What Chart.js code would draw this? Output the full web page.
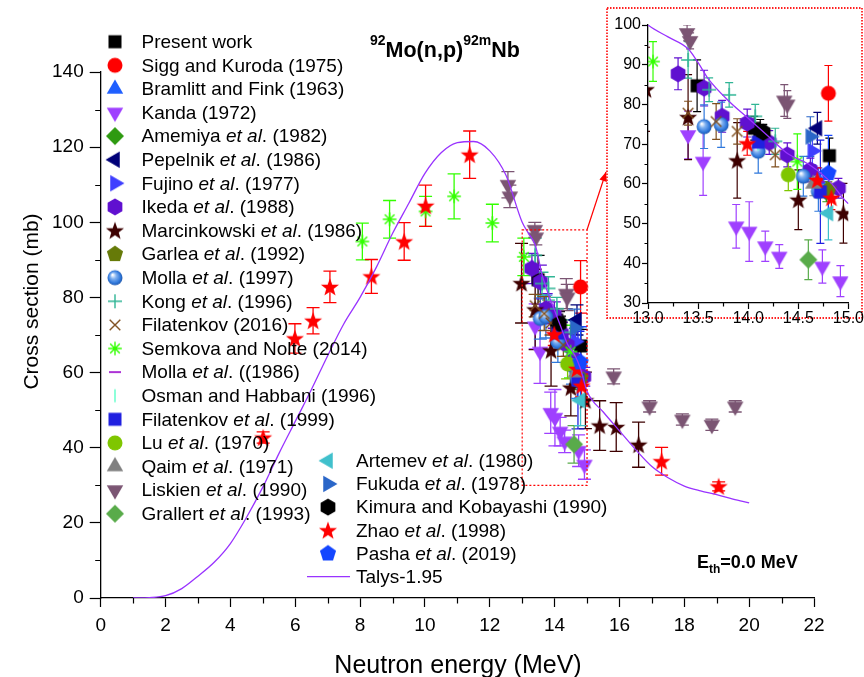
<!DOCTYPE html>
<html>
<head>
<meta charset="utf-8">
<script src="https://cdn.jsdelivr.net/npm/chart.js@4.4.1/dist/chart.umd.min.js"></script>
<style>
  html, body { margin: 0; padding: 0; background: #fff; }
  #wrap { position: relative; width: 864px; height: 677px; overflow: hidden; }
  #mainChart { position: absolute; left: 0; top: 0; }
  #insetChart { position: absolute; left: 605px; top: 5px; }
</style>
</head>
<body>
<div id="wrap">
  <canvas id="mainChart" width="864" height="677"></canvas>
  <canvas id="insetChart" width="259" height="325"></canvas>
</div>
<script>
const FONT = "'Liberation Sans', Arial, Helvetica, sans-serif";

// ---- tick labels ----
const mainXTicks = [0, 2, 4, 6, 8, 10, 12, 14, 16, 18, 20, 22];
const mainYTicks = [0, 20, 40, 60, 80, 100, 120, 140];
const insetXTicks = [13.0, 13.5, 14.0, 14.5, 15.0];
const insetYTicks = [30, 40, 50, 60, 70, 80, 90, 100];

// ---- data: energy (MeV), cross section (mb), error (mb) ----
const presentE = [13.49, 14.06, 14.12, 14.81];
const presentXS = [84.7, 74.0, 73.2, 67.1];
const presentErr = [6.5, 3, 3, 4.4];

const siggE = [14.8];
const siggXS = [82.8];
const siggErr = [7];

const bramlittE = [14.7];
const bramlittXS = [61];
const bramlittErr = [3];

const kandaE = [13.4, 13.55, 13.88, 14.01, 14.17, 14.31, 14.74, 14.92];
const kandaXS = [72.3, 65.6, 49.3, 48.0, 44.3, 41.7, 39.2, 35.5];
const kandaErr = [6, 8.5, 5.5, 7.5, 3.8, 3, 4.2, 3.9];

const amemiyaE = [14.78];
const amemiyaXS = [58];
const amemiyaErr = [2.5];

const pepelnikE = [14.69];
const pepelnikXS = [74];
const pepelnikErr = [4];

const fujinoE = [14.64];
const fujinoXS = [68.3];
const fujinoErr = [3.5];

const ikedaE = [13.3, 13.56, 13.74, 13.99, 14.21, 14.39, 14.62, 14.9];
const ikedaXS = [87.7, 84.1, 77.0, 75.3, 70.4, 67.3, 63.5, 58.9];
const ikedaErr = [4, 4.5, 4, 3.5, 3, 3, 3, 2.5];

const marcinE = [12.98, 13.4, 13.89, 14.5, 14.95, 15.39, 15.9, 16.59];
const marcinXS = [83.8, 76.8, 65.9, 56.0, 52.6, 45.9, 45.5, 40.8];
const marcinErr = [10.6, 10.7, 9.5, 7.5, 7.5, 6.6, 6.5, 6];

const garleaE = [14.8];
const garleaXS = [58.5];
const garleaErr = [2];

const molla97E = [13.56, 13.73, 14.1, 14.55, 14.7];
const molla97XS = [74.4, 74.9, 68.2, 61.9, 58.1];
const molla97Err = [5.5, 5.7, 5.5, 5, 5];

const kongE = [13.4, 13.61, 13.81, 14.07, 14.27];
const kongXS = [91.2, 83.7, 82.4, 77.0, 70.7];
const kongErr = [4.6, 3, 3.1, 3, 3.3];

const fil16E = [13.4, 13.68, 13.89, 14.27];
const fil16XS = [77.8, 75.7, 73.2, 67.3];
const fil16Err = [3, 4.5, 3.2, 3];

const semkovaE = [8.07, 8.91, 10.02, 10.9, 12.08, 13.05, 14.49];
const semkovaXS = [94.9, 100.8, 102.9, 106.9, 99.8, 90.8, 65.6];
const semkovaErr = [4.9, 5, 4, 6, 5, 5, 7];

const molla86E = [14.7];
const molla86XS = [60.5];
const molla86Err = [2];

const osmanE = [14.1];
const osmanXS = [70];
const osmanErr = [3];

const fil99E = [14.1, 14.72];
const fil99XS = [70.5, 58];
const fil99Err = [3, 13];

const luE = [14.4];
const luXS = [62.3];
const luErr = [4];

const qaimE = [14.65];
const qaimXS = [60];
const qaimErr = [3];

const liskienE = [12.56, 12.62, 13.39, 13.42, 14.36, 14.39, 15.82, 16.93, 17.94, 18.85, 19.57];
const liskienXS = [110, 106.9, 98, 96, 81, 80, 59, 51, 47.5, 46.1, 51];
const liskienErr = [3.5, 3, 2, 2, 4, 3.5, 2, 1.5, 1.5, 1.5, 1.5];

const grallertE = [14.6];
const grallertXS = [40.9];
const grallertErr = [5];

const artemevE = [14.8];
const artemevXS = [52.6];
const artemevErr = [6.7];

const fukudaE = [14.62];
const fukudaXS = [71.9];
const fukudaErr = [5];

const kimuraE = [14.15];
const kimuraXS = [73];
const kimuraErr = [2];

const zhaoE = [5.01, 5.99, 6.55, 7.07, 8.35, 9.36, 10.02, 11.38, 13.99, 14.69, 14.83, 17.3, 19.06];
const zhaoXS = [42.7, 69.1, 73.8, 82.8, 85.6, 94.9, 104.4, 118, 70.2, 61, 56.5, 36.4, 29.7];
const zhaoErr = [1.5, 3.9, 3.5, 4.2, 4.5, 5, 5.5, 6.3, 3, 3, 3, 3.7, 1.2];

const pashaE = [14.8];
const pashaXS = [62.7];
const pashaErr = [9.5];

const talysE = [1, 1.5, 2, 2.5, 3, 3.5, 4, 4.5, 5, 5.5, 6, 6.5, 7, 7.5, 8, 8.5, 9, 9.5, 10, 10.5, 11, 11.5, 12, 12.5,
  13, 13.2, 13.4, 13.5, 13.6, 13.8, 14, 14.2, 14.4, 14.6, 14.8, 15, 15.5, 16, 16.5, 17, 17.5, 18, 18.5, 19, 19.5, 20];
const talysXS = [0, 0.1, 0.6, 2.5, 5.8, 9.5, 14.5, 21.5, 29.5, 38.5, 47, 55.5, 64.5, 73, 80, 88, 97, 105, 113, 118.5, 121.2, 121.5, 119, 112.5,
  100, 97, 94, 90.5, 86.5, 81, 76.5, 72, 67.5, 65, 61, 55, 49.5, 44.5, 39.5, 35, 32, 29.8, 28.5, 27.5, 26.3, 25.3];

// zoomed window shown in the inset
const zoomE = [13, 15];
const zoomXS = [30, 98];

// ---- series, in legend order ----
const expSeries = [
  ['Present work', presentE, presentXS, presentErr],
  ['Sigg and Kuroda (1975)', siggE, siggXS, siggErr],
  ['Bramlitt and Fink (1963)', bramlittE, bramlittXS, bramlittErr],
  ['Kanda (1972)', kandaE, kandaXS, kandaErr],
  ['Amemiya et al. (1982)', amemiyaE, amemiyaXS, amemiyaErr],
  ['Pepelnik et al. (1986)', pepelnikE, pepelnikXS, pepelnikErr],
  ['Fujino et al. (1977)', fujinoE, fujinoXS, fujinoErr],
  ['Ikeda et al. (1988)', ikedaE, ikedaXS, ikedaErr],
  ['Marcinkowski et al. (1986)', marcinE, marcinXS, marcinErr],
  ['Garlea et al. (1992)', garleaE, garleaXS, garleaErr],
  ['Molla et al. (1997)', molla97E, molla97XS, molla97Err],
  ['Kong et al. (1996)', kongE, kongXS, kongErr],
  ['Filatenkov (2016)', fil16E, fil16XS, fil16Err],
  ['Semkova and Nolte (2014)', semkovaE, semkovaXS, semkovaErr],
  ['Molla et al. ((1986)', molla86E, molla86XS, molla86Err],
  ['Osman and Habbani (1996)', osmanE, osmanXS, osmanErr],
  ['Filatenkov et al. (1999)', fil99E, fil99XS, fil99Err],
  ['Lu et al. (1970)', luE, luXS, luErr],
  ['Qaim et al. (1971)', qaimE, qaimXS, qaimErr],
  ['Liskien et al. (1990)', liskienE, liskienXS, liskienErr],
  ['Grallert et al. (1993)', grallertE, grallertXS, grallertErr],
  ['Artemev et al. (1980)', artemevE, artemevXS, artemevErr],
  ['Fukuda et al. (1978)', fukudaE, fukudaXS, fukudaErr],
  ['Kimura and Kobayashi (1990)', kimuraE, kimuraXS, kimuraErr],
  ['Zhao et al. (1998)', zhaoE, zhaoXS, zhaoErr],
  ['Pasha et al. (2019)', pashaE, pashaXS, pashaErr]
];
const talysName = 'Talys-1.95';

// marker shape and colour per series
const styles = {
  'Present work': ['square', '#000000'],
  'Sigg and Kuroda (1975)': ['circle', '#ff0000'],
  'Bramlitt and Fink (1963)': ['triUp', '#1f5fff'],
  'Kanda (1972)': ['triDown', '#9f40ff'],
  'Amemiya et al. (1982)': ['diamond', '#2e9a10'],
  'Pepelnik et al. (1986)': ['triLeft', '#000078'],
  'Fujino et al. (1977)': ['triRight', '#3f3fff'],
  'Ikeda et al. (1988)': ['hexagon', '#6010d0'],
  'Marcinkowski et al. (1986)': ['star5', '#3d0000'],
  'Garlea et al. (1992)': ['pentagon', '#667a08'],
  'Molla et al. (1997)': ['sphere', '#2f78dc'],
  'Kong et al. (1996)': ['plus', '#30b595'],
  'Filatenkov (2016)': ['x', '#7f4f1f'],
  'Semkova and Nolte (2014)': ['asterisk', '#33ff00'],
  'Molla et al. ((1986)': ['dash', '#9900cc'],
  'Osman and Habbani (1996)': ['vline', '#70ffd0'],
  'Filatenkov et al. (1999)': ['square', '#2020e0'],
  'Lu et al. (1970)': ['circle', '#7fc600'],
  'Qaim et al. (1971)': ['triUp', '#808080'],
  'Liskien et al. (1990)': ['triDown', '#7b5573'],
  'Grallert et al. (1993)': ['diamond', '#59ab4a'],
  'Artemev et al. (1980)': ['triLeft', '#40c0cc'],
  'Fukuda et al. (1978)': ['triRight', '#2a66c8'],
  'Kimura and Kobayashi (1990)': ['hexagon', '#000000'],
  'Zhao et al. (1998)': ['star5', '#ff0000'],
  'Pasha et al. (2019)': ['pentagon', '#1446ff']
};
const talysColor = '#9933ff';

// ---- marker images ----
function polygon(ctx, n, r, start) {
  ctx.beginPath();
  for (let k = 0; k < n; k++) {
    const a = (start + k * 360 / n) * Math.PI / 180;
    const px = 12 + r * Math.cos(a), py = 12 + r * Math.sin(a);
    k ? ctx.lineTo(px, py) : ctx.moveTo(px, py);
  }
  ctx.closePath();
  ctx.fill();
}

function makeMarker(shape, color) {
  const c = document.createElement('canvas');
  c.width = 24; c.height = 24;
  const ctx = c.getContext('2d');
  ctx.fillStyle = color;
  ctx.strokeStyle = color;
  ctx.lineWidth = 1.4;
  const arms = (angles, r) => {
    ctx.beginPath();
    angles.forEach(a => {
      const dx = r * Math.cos(a * Math.PI / 180), dy = r * Math.sin(a * Math.PI / 180);
      ctx.moveTo(12 - dx, 12 - dy); ctx.lineTo(12 + dx, 12 + dy);
    });
    ctx.stroke();
  };
  switch (shape) {
    case 'square': ctx.fillRect(5.5, 5.5, 13, 13); break;
    case 'circle': ctx.beginPath(); ctx.arc(12, 12, 7.5, 0, Math.PI * 2); ctx.fill(); break;
    case 'sphere': {
      const g = ctx.createRadialGradient(9.5, 9, 0.5, 12, 12, 8);
      g.addColorStop(0, '#ffffff');
      g.addColorStop(0.35, '#7fb0f0');
      g.addColorStop(0.75, color);
      g.addColorStop(1, '#1c4fa0');
      ctx.fillStyle = g;
      ctx.beginPath(); ctx.arc(12, 12, 7.5, 0, Math.PI * 2); ctx.fill();
      break;
    }
    case 'triUp': polygon(ctx, 3, 9.5, -90); break;
    case 'triDown': polygon(ctx, 3, 9.5, 90); break;
    case 'triLeft': polygon(ctx, 3, 9.5, 180); break;
    case 'triRight': polygon(ctx, 3, 9.5, 0); break;
    case 'diamond': polygon(ctx, 4, 9, 0); break;
    case 'hexagon': polygon(ctx, 6, 8.5, -90); break;
    case 'pentagon': polygon(ctx, 5, 8.5, -90); break;
    case 'star5': {
      ctx.beginPath();
      for (let k = 0; k < 10; k++) {
        const r = k % 2 ? 3.9 : 9.5;
        const a = (-90 + k * 36) * Math.PI / 180;
        const px = 12 + r * Math.cos(a), py = 12.8 + r * Math.sin(a);
        k ? ctx.lineTo(px, py) : ctx.moveTo(px, py);
      }
      ctx.closePath(); ctx.fill();
      break;
    }
    case 'plus': arms([0, 90], 7); break;
    case 'x': arms([45, 135], 7.5); break;
    case 'asterisk': arms([0, 45, 90, 135], 6.8); break;
    case 'dash': ctx.lineWidth = 1.6; arms([0], 6); break;
    case 'vline': ctx.lineWidth = 1.6; arms([90], 6.5); break;
  }
  return c;
}

const markers = {};
Object.keys(styles).forEach(name => { markers[name] = makeMarker(styles[name][0], styles[name][1]); });

function buildDatasets(clip) {
  const sets = expSeries.map(([name, e, xs, err], i) => ({
    label: name,
    data: e.map((v, k) => ({ x: v, y: xs[k] })),
    errors: err,
    errColor: styles[name][1],
    pointStyle: markers[name],
    pointRadius: 8,
    showLine: false,
    clip: clip,
    order: -i
  }));
  sets.push({
    label: talysName,
    data: talysE.map((v, k) => ({ x: v, y: talysXS[k] })),
    showLine: true,
    pointRadius: 0,
    borderColor: talysColor,
    borderWidth: 1.3,
    cubicInterpolationMode: 'monotone',
    clip: clip,
    order: -100
  });
  return sets;
}

// ---- plugins ----
const errorBars = {
  id: 'errorBars',
  beforeDatasetsDraw(chart, args, opts) {
    const { ctx, chartArea: a, scales: { x, y } } = chart;
    ctx.save();
    ctx.beginPath();
    ctx.rect(a.left, a.top, a.right - a.left, a.bottom - a.top);
    ctx.clip();
    ctx.lineWidth = opts.width;
    chart.data.datasets.forEach(ds => {
      if (!ds.errors) return;
      ctx.strokeStyle = ds.errColor;
      ds.data.forEach((p, k) => {
        const e = ds.errors[k];
        if (!e) return;
        const px = x.getPixelForValue(p.x);
        const top = y.getPixelForValue(p.y + e);
        const bot = y.getPixelForValue(p.y - e);
        ctx.beginPath();
        ctx.moveTo(px, top); ctx.lineTo(px, bot);
        ctx.moveTo(px - opts.cap, top); ctx.lineTo(px + opts.cap, top);
        ctx.moveTo(px - opts.cap, bot); ctx.lineTo(px + opts.cap, bot);
        ctx.stroke();
      });
    });
    ctx.restore();
  }
};

const minorTicks = {
  id: 'minorTicks',
  afterDraw(chart, args, opts) {
    const { ctx, chartArea: a, scales: { x, y } } = chart;
    const mids = s => s.ticks.slice(1).map((t, i) => (t.value + s.ticks[i].value) / 2);
    ctx.save();
    ctx.strokeStyle = '#000';
    ctx.lineWidth = 1.2;
    ctx.beginPath();
    mids(x).forEach(v => {
      const px = Math.round(x.getPixelForValue(v)) + 0.5;
      ctx.moveTo(px, a.bottom); ctx.lineTo(px, a.bottom + opts.len);
    });
    mids(y).forEach(v => {
      const py = Math.round(y.getPixelForValue(v)) + 0.5;
      ctx.moveTo(a.left, py); ctx.lineTo(a.left - opts.len, py);
    });
    ctx.stroke();
    ctx.restore();
  }
};

function drawRich(ctx, text, x, y, size) {
  text.split(/(et al)/).forEach(part => {
    ctx.font = (part === 'et al' ? 'italic ' : '') + size + 'px ' + FONT;
    ctx.fillText(part, x, y);
    x += ctx.measureText(part).width;
  });
}

// legend, titles, labels and the zoom box of the main chart
const mainDecor = {
  id: 'mainDecor',
  afterDatasetsDraw(chart) {
    const { ctx, scales: { x, y } } = chart;
    const l = x.getPixelForValue(zoomE[0]), r = x.getPixelForValue(zoomE[1]);
    const t = y.getPixelForValue(zoomXS[1]), b = y.getPixelForValue(zoomXS[0]);
    ctx.save();
    ctx.strokeStyle = '#ff0000';
    ctx.lineWidth = 1.2;
    ctx.setLineDash([2, 2]);
    ctx.strokeRect(l, t, r - l, b - t);
    ctx.setLineDash([]);
    // arrow to the inset
    const ex = 606, ey = 172;
    ctx.beginPath(); ctx.moveTo(r, t); ctx.lineTo(ex, ey); ctx.stroke();
    const ang = Math.atan2(ey - t, ex - r);
    ctx.fillStyle = '#ff0000';
    ctx.beginPath();
    ctx.moveTo(ex, ey);
    ctx.lineTo(ex - 10 * Math.cos(ang - 0.4), ey - 10 * Math.sin(ang - 0.4));
    ctx.lineTo(ex - 10 * Math.cos(ang + 0.4), ey - 10 * Math.sin(ang + 0.4));
    ctx.closePath(); ctx.fill();
    ctx.restore();
  },
  afterDraw(chart) {
    const ctx = chart.ctx;
    ctx.save();
    ctx.fillStyle = '#000';
    ctx.textAlign = 'left';
    ctx.textBaseline = 'middle';
    // legend, column 1 and column 2
    const names = expSeries.map(s => s[0]);
    names.slice(0, 21).forEach((name, i) => {
      const yy = 41.7 + i * 23.6;
      ctx.drawImage(markers[name], 115 - 12, yy - 12);
      drawRich(ctx, name, 141.5, yy + 1, 19);
    });
    names.slice(21).forEach((name, i) => {
      const yy = 460.7 + i * 23.2;
      ctx.drawImage(markers[name], 328 - 12, yy - 12);
      drawRich(ctx, name, 356, yy + 1, 19);
    });
    const ty = 460.7 + 5 * 23.2;
    ctx.strokeStyle = talysColor;
    ctx.lineWidth = 1.3;
    ctx.beginPath(); ctx.moveTo(307, ty); ctx.lineTo(350, ty); ctx.stroke();
    drawRich(ctx, talysName, 356, ty + 1, 19);

    // reaction title
    ctx.textBaseline = 'alphabetic';
    let tx = 370;
    [['92', 14, 44.5], ['Mo(n,p)', 21.5, 57], ['92m', 14, 44.5], ['Nb', 21.5, 57]].forEach(([s, size, base]) => {
      ctx.font = 'bold ' + size + 'px ' + FONT;
      ctx.fillText(s, tx, base);
      tx += ctx.measureText(s).width;
    });
    // threshold label
    tx = 697;
    [['E', 18, 568], ['th', 12, 573], ['=0.0 MeV', 18, 568]].forEach(([s, size, base]) => {
      ctx.font = 'bold ' + size + 'px ' + FONT;
      ctx.fillText(s, tx, base);
      tx += ctx.measureText(s).width;
    });
    // axis titles
    ctx.textAlign = 'center';
    ctx.font = '25px ' + FONT;
    ctx.fillText('Neutron energy (MeV)', 458, 673);
    ctx.save();
    ctx.translate(38, 301.5);
    ctx.rotate(-Math.PI / 2);
    ctx.font = '21px ' + FONT;
    ctx.fillText('Cross section (mb)', 0, 0);
    ctx.restore();
    ctx.restore();
  }
};

const insetFrame = {
  id: 'insetFrame',
  beforeDraw(chart) {
    const ctx = chart.ctx;
    ctx.save();
    ctx.fillStyle = '#fff';
    ctx.fillRect(2, 3, 255, 310);
    ctx.strokeStyle = '#ff2020';
    ctx.lineWidth = 1.8;
    ctx.setLineDash([1.5, 1.5]);
    ctx.strokeRect(2, 3, 255, 310);
    ctx.restore();
  }
};

function axis(ticksArr, fontSize, tickLen, pad, fit, fmt) {
  return {
    type: 'linear',
    min: ticksArr[0],
    max: ticksArr[ticksArr.length - 1],
    afterBuildTicks: s => { s.ticks = ticksArr.map(v => ({ value: v })); },
    afterFit: fit,
    ticks: {
      color: '#000',
      font: { size: fontSize, family: FONT },
      padding: pad,
      maxRotation: 0,
      autoSkip: false,
      callback: fmt || (v => v)
    },
    grid: { drawOnChartArea: false, tickLength: tickLen, tickColor: '#000', tickWidth: 1.2 },
    border: { color: '#000', width: 1.3 }
  };
}

Chart.defaults.font.family = FONT;

new Chart(document.getElementById('mainChart'), {
  type: 'scatter',
  data: { datasets: buildDatasets(undefined) },
  options: {
    responsive: false,
    animation: false,
    devicePixelRatio: 1,
    events: [],
    layout: { padding: { left: 0, right: 50, top: 72, bottom: 0 } },
    scales: {
      x: axis(mainXTicks, 19, 9, 7, s => { s.height = 79; }),
      y: axis(mainYTicks, 19, 11, 6, s => { s.width = 100.7; })
    },
    plugins: {
      legend: { display: false },
      tooltip: { enabled: false },
      errorBars: { cap: 6.5, width: 1.3 },
      minorTicks: { len: 5.5 }
    }
  },
  plugins: [errorBars, minorTicks, mainDecor]
});

new Chart(document.getElementById('insetChart'), {
  type: 'scatter',
  data: { datasets: buildDatasets(0) },
  options: {
    responsive: false,
    animation: false,
    devicePixelRatio: 1,
    events: [],
    layout: { padding: { left: 0, right: 14, top: 20, bottom: 0 } },
    scales: {
      x: axis(insetXTicks, 16, 6, 0, s => { s.height = 27; }, v => v.toFixed(1)),
      y: axis(insetYTicks, 16, 6, 1, s => { s.width = 43; })
    },
    plugins: {
      legend: { display: false },
      tooltip: { enabled: false },
      errorBars: { cap: 4, width: 1.2 },
      minorTicks: { len: 3.5 }
    }
  },
  plugins: [insetFrame, errorBars, minorTicks]
});
</script>
</body>
</html>
